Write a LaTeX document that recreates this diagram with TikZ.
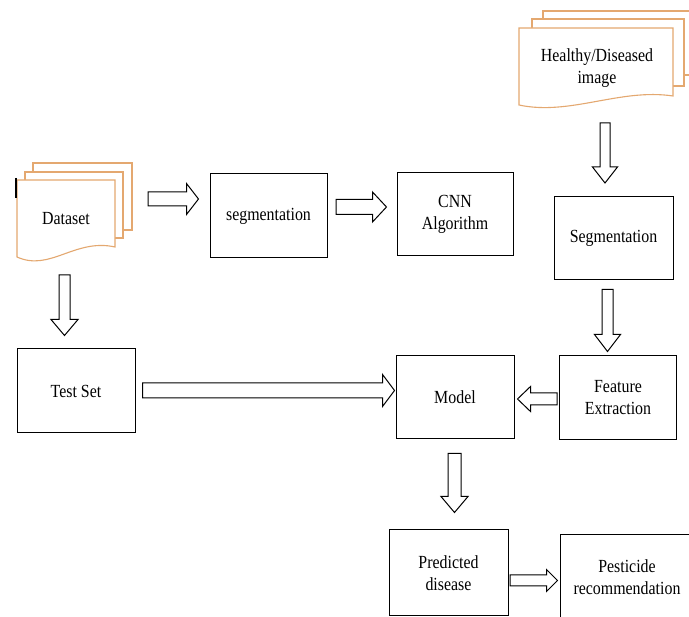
\documentclass[tikz,border=0pt]{standalone}
\usepackage{fontspec}
\setmainfont{Liberation Serif}[FakeStretch=0.86]
\usetikzlibrary{calc}
\definecolor{sheetline}{RGB}{228,168,112}
\tikzset{
  box/.style={draw=black, line width=1pt, fill=white, align=center, inner sep=2pt,
              font=\fontsize{18.5}{22}\selectfont},
  sheet/.style={draw=sheetline, line width=1.1pt, fill=white},
  lbl/.style={align=center, font=\fontsize{18.5}{22}\selectfont},
  barrow/.style={draw=black, line width=1pt, fill=white, line join=miter},
}
% block arrow between two named coordinates: #1 from, #2 to, #3 shaft half width, #4 head half width, #5 head length
\newcommand\blockarrow[5]{%
  \path let \p1=(#1), \p2=(#2), \n1={veclen(\x2-\x1,\y2-\y1)}, \n2={atan2(\y2-\y1,\x2-\x1)} in
    \pgfextra{\xdef\baLen{\n1}\xdef\baAng{\n2}};
  \begin{scope}[shift={(#1)}, rotate=\baAng, x=1pt, y=1pt]
    \draw[barrow] (0,-#3) -- (\baLen-#5,-#3) -- (\baLen-#5,-#4) -- (\baLen,0)
      -- (\baLen-#5,#4) -- (\baLen-#5,#3) -- (0,#3) -- cycle;
  \end{scope}}
\begin{document}
\begin{tikzpicture}[x=1pt, y=-1pt]
\useasboundingbox (0,0) rectangle (689,617);
\fill[white] (0,0) rectangle (689,617);

% ---- Dataset multi-document
\draw[sheet] (33,163) rectangle (132,230);
\draw[sheet] (25,172) rectangle (123,238);
\draw[sheet] (17,180) -- (115,180) -- (115,247)
   .. controls (75,238) and (50,272) .. (17,257) -- cycle;
\node[lbl] (ds) at (66,219) {Dataset};
\draw[black, line width=1.6pt] (16,178) -- (16,198);

% ---- Healthy/Diseased image multi-document
\draw[sheet] (543,11) rectangle (700,75);
\draw[sheet] (532,19) rectangle (684,86);
\draw[sheet] (519,28) -- (673,28) -- (673,96)
   .. controls (620,88) and (570,116) .. (519,105) -- cycle;
\node[lbl] (hd) at (597,68) {Healthy/Diseased\\image};

% ---- boxes
\node[box, minimum width=117pt, minimum height=84pt] (seg) at (268.5,216) {segmentation};
\node[box, minimum width=116pt, minimum height=83pt] (cnn) at (455,214.5) {CNN\\Algorithm};
\node[box, minimum width=119pt, minimum height=83pt] (segr) at (613.5,238.5) {Segmentation};
\node[box, minimum width=117pt, minimum height=84pt] (feat) at (618,397.5) {Feature\\Extraction};
\node[box, minimum width=118pt, minimum height=83pt] (model) at (455,397.5) {Model};
\node[box, minimum width=118pt, minimum height=84pt] (test) at (76,391) {Test Set};
\node[box, minimum width=119pt, minimum height=86pt] (pred) at (448.5,573) {Predicted\\disease};
\node[box, minimum width=134pt, minimum height=84pt] (pest) at (627,577) {Pesticide\\recommendation};

% ---- arrow end coordinates
\coordinate (a1s) at (148,199);   \coordinate (a1e) at ($(seg.west)+(-11,-17)$);
\coordinate (a2s) at (336,207);   \coordinate (a2e) at ($(cnn.west)+(-10,-7.5)$);
\coordinate (a3s) at (605,123);   \coordinate (a3e) at (605,183);
\coordinate (a4s) at ($(segr.south)+(-6,9)$); \coordinate (a4e) at ($(feat.north)+(-10.5,-3.5)$);
\coordinate (a5s) at (64.5,275);  \coordinate (a5e) at ($(test.north)+(-11.5,-13)$);
\coordinate (a6s) at ($(test.east)+(7,-0.5)$); \coordinate (a6e) at ($(model.west)+(-1,-7)$);
\coordinate (a7s) at ($(feat.west)+(-2,1.5)$); \coordinate (a7e) at ($(model.east)+(3,1.5)$);
\coordinate (a8s) at ($(model.south)+(-0.5,14)$); \coordinate (a8e) at ($(pred.north)+(6,-17)$);
\coordinate (a9s) at ($(pred.east)+(1.5,7.5)$); \coordinate (a9e) at ($(pest.west)+(-2,3.5)$);

\blockarrow{a1s}{a1e}{7}{15.5}{12}
\blockarrow{a2s}{a2e}{7.5}{15}{14}
\blockarrow{a3s}{a3e}{5}{12.5}{16}
\blockarrow{a4s}{a4e}{5.5}{13}{17}
\blockarrow{a5s}{a5e}{5.5}{13.5}{16}
\blockarrow{a6s}{a6e}{7.5}{16}{12}
\blockarrow{a7s}{a7e}{6}{12.5}{13}
\blockarrow{a8s}{a8e}{6.5}{13.5}{16}
\blockarrow{a9s}{a9e}{5.5}{11}{11}
\end{tikzpicture}
\end{document}
